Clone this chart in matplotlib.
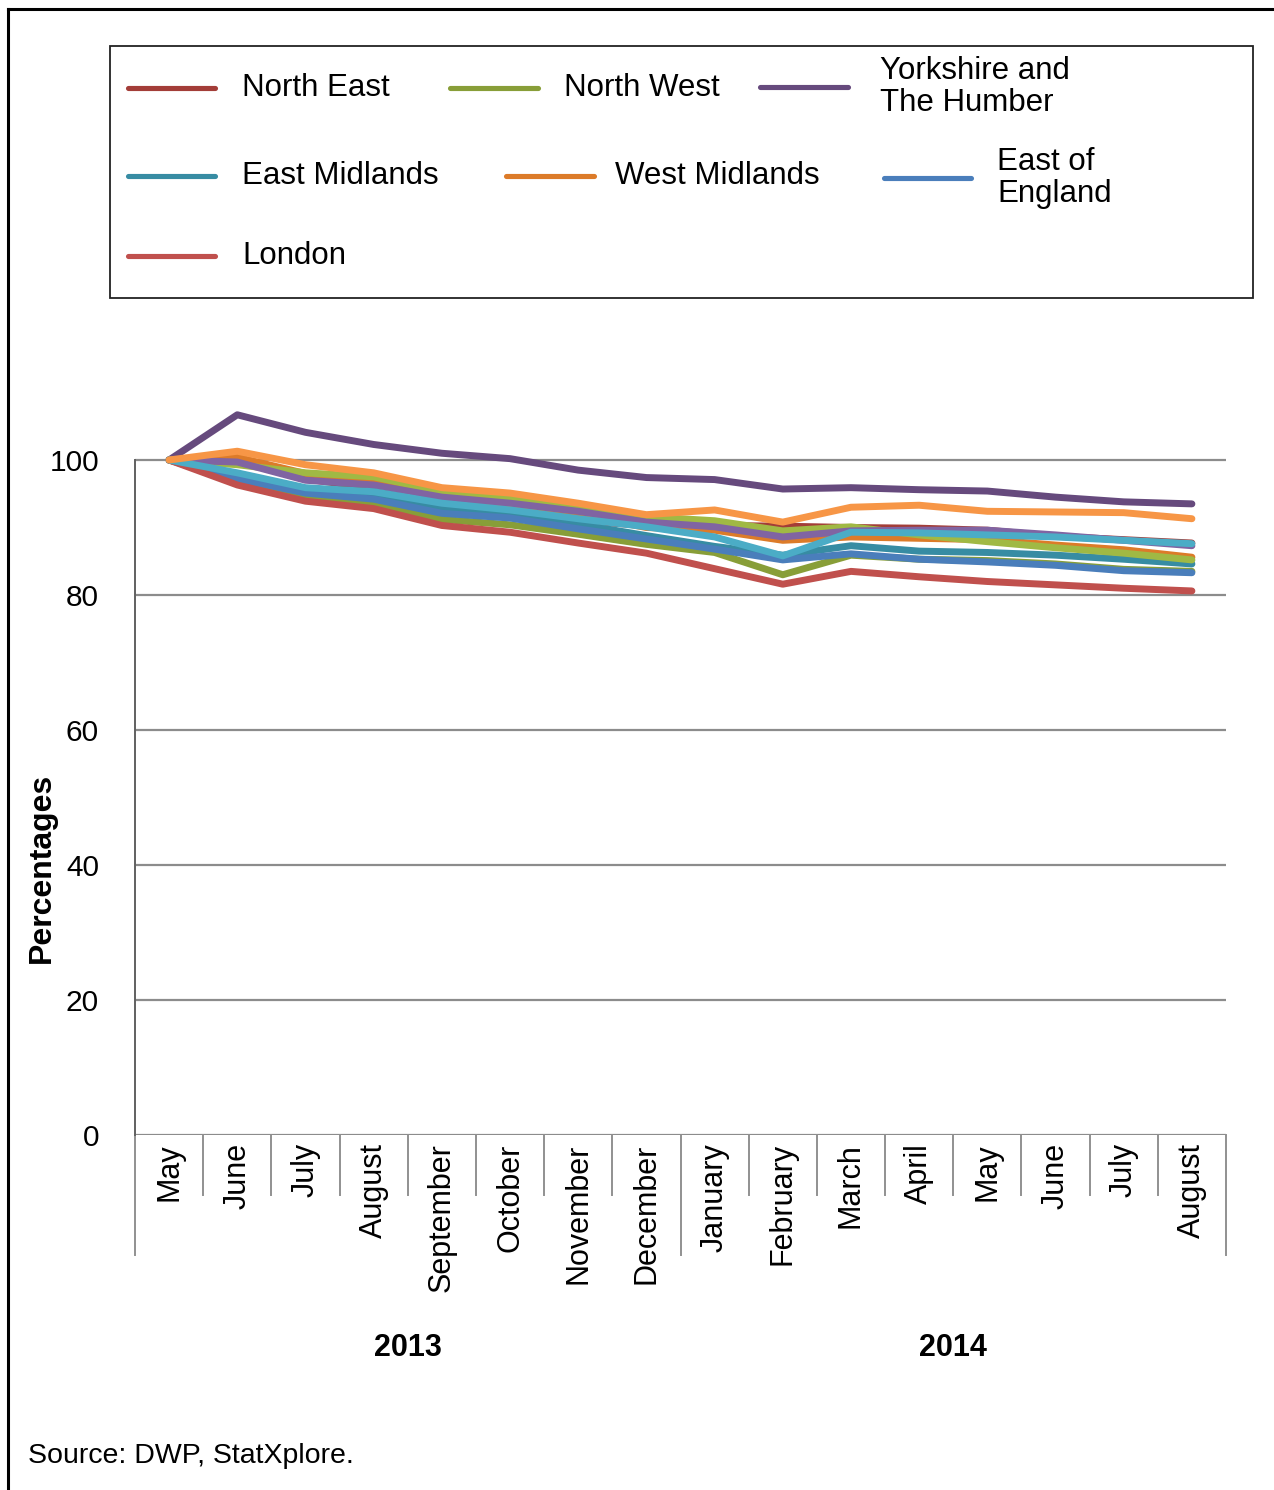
import matplotlib
matplotlib.use("Agg")
import matplotlib.pyplot as plt
from matplotlib.lines import Line2D
from matplotlib.patches import Rectangle

plt.rcParams['font.family'] = ['Liberation Sans', 'DejaVu Sans']

months = ['May', 'June', 'July', 'August', 'September', 'October', 'November',
          'December', 'January', 'February', 'March', 'April', 'May', 'June',
          'July', 'August']
years = ['2013', '2014']

# index, May 2013 = 100
north_east = [100, 100.0, 97.2, 95.8, 92.8, 92.1, 91.0, 90.3, 90.3, 90.2, 90.0, 89.9, 89.6, 88.7, 88.2, 87.7]
north_west = [100, 96.8, 94.3, 93.5, 91.2, 90.4, 89.0, 87.5, 86.3, 83.0, 85.9, 85.3, 85.1, 84.6, 83.8, 83.5]
yorkshire = [100, 106.7, 104.1, 102.3, 101.0, 100.2, 98.5, 97.4, 97.1, 95.7, 95.9, 95.6, 95.4, 94.5, 93.8, 93.5]
east_midlands = [100, 97.6, 95.6, 94.8, 93.0, 92.2, 90.5, 88.8, 87.2, 85.9, 87.3, 86.5, 86.3, 85.9, 85.3, 84.6]
west_midlands = [100, 100.4, 98.0, 96.9, 94.7, 93.3, 91.9, 90.0, 89.6, 88.1, 88.6, 88.4, 88.2, 87.4, 86.7, 85.6]
east_england = [100, 97.2, 95.1, 94.2, 92.1, 91.4, 89.8, 88.3, 86.8, 85.2, 86.1, 85.3, 84.9, 84.4, 83.6, 83.3]
london = [100, 96.3, 93.9, 92.8, 90.3, 89.3, 87.7, 86.2, 83.9, 81.6, 83.5, 82.7, 82.0, 81.5, 81.0, 80.6]
south_east = [100, 99.3, 98.1, 97.5, 95.3, 94.4, 93.0, 91.6, 91.0, 89.5, 90.1, 88.9, 87.9, 87.0, 86.2, 85.2]
south_west = [100, 99.7, 97.0, 96.3, 94.5, 93.6, 92.4, 90.8, 90.1, 88.6, 89.5, 89.6, 89.6, 88.9, 88.1, 87.3]
wales = [100, 98.1, 95.9, 95.3, 93.6, 92.6, 91.3, 90.1, 88.6, 85.8, 89.3, 89.2, 88.9, 88.6, 88.1, 87.6]
scotland = [100, 101.3, 99.3, 98.1, 95.9, 95.1, 93.6, 91.9, 92.6, 90.8, 93.0, 93.3, 92.4, 92.3, 92.2, 91.3]

series = [
    ('North East', north_east, '#A33D38'),
    ('North West', north_west, '#889E38'),
    ('Yorkshire and\nThe Humber', yorkshire, '#664A7D'),
    ('East Midlands', east_midlands, '#378CA3'),
    ('West Midlands', west_midlands, '#DC7B29'),
    ('East of\nEngland', east_england, '#4A7EBB'),
    ('London', london, '#C0504D'),
    ('South East', south_east, '#A0B944'),
    ('South West', south_west, '#8064A2'),
    ('Wales', wales, '#4BACC6'),
    ('Scotland', scotland, '#F79646'),
]

W, H = 1274, 1490
fig = plt.figure(figsize=(W / 100, H / 100), dpi=100)

def fx(px):
    return px / W

def fy(py):
    return 1 - py / H

ax = fig.add_axes([fx(135), fy(1135), fx(1226) - fx(135), fy(392.5) - fy(1135)])
x = list(range(len(months)))
for name, vals, col in series:
    ax.plot(x, vals, color=col, lw=5, solid_capstyle='round', solid_joinstyle='round')

ax.set_xlim(-0.5, len(months) - 0.5)
ax.set_ylim(0, 110)
ax.set_yticks([0, 20, 40, 60, 80, 100])
ax.yaxis.grid(True, color='#8C8C8C', lw=1.6)
ax.set_axisbelow(True)
for s in ['top', 'right', 'bottom']:
    ax.spines[s].set_visible(False)
ax.spines['left'].set_bounds(0, 100)
ax.spines['left'].set_color('#606060')
ax.spines['left'].set_linewidth(1.4)
ax.tick_params(axis='y', length=0, pad=26, labelsize=21.5)
ax.set_xticks(x)
ax.set_xticklabels(months, rotation=90, fontsize=22)
ax.tick_params(axis='x', length=0, pad=6)

# category separators below the axis
tr = ax.get_xaxis_transform()
axh = 1135 - 392.5
for i in range(len(months) + 1):
    xb = i - 0.5
    long_line = i in (0, 8, len(months))
    yb = -(120 if long_line else 60) / axh
    ax.add_line(Line2D([xb, xb], [0, yb], transform=tr, color='#909090', lw=1.4, clip_on=False))

ax.text(3.5, -(1348 - 1135) / axh, years[0], transform=tr, ha='center', va='center',
        fontsize=22, fontweight='bold')
ax.text(11.5, -(1348 - 1135) / axh, years[1], transform=tr, ha='center', va='center',
        fontsize=22, fontweight='bold')

fig.text(fx(42), fy(868), 'Percentages', rotation=90, ha='center', va='center',
         fontsize=23, fontweight='bold')

# legend box (only the first seven regions are shown)
fig.patches.append(Rectangle((fx(110), fy(298)), fx(1253) - fx(110), fy(46) - fy(298),
                             transform=fig.transFigure, fill=False, edgecolor='#222222', lw=1.3))
leg_pos = [(128, 215, 242, 88), (450, 538, 564, 88), (760, 848, 880, 87),
           (128, 215, 242, 176), (506, 594, 615, 176), (884, 971, 997, 178),
           (128, 215, 242, 256)]
for (name, vals, col), (x0, x1, tx, ty) in zip(series[:7], leg_pos):
    fig.add_artist(Line2D([fx(x0), fx(x1)], [fy(ty), fy(ty)], transform=fig.transFigure,
                          color=col, lw=3.7, solid_capstyle='round'))
    fig.text(fx(tx), fy(ty), name, ha='left', va='center', fontsize=22.5, linespacing=1.12)

# outer frame (top and left edges)
fig.add_artist(Line2D([fx(8), 1], [fy(9), fy(9)], transform=fig.transFigure, color='black', lw=2.2))
fig.add_artist(Line2D([fx(8), fx(8)], [fy(9), 0], transform=fig.transFigure, color='black', lw=2.2))

fig.text(fx(28), fy(1456), 'Source: DWP, StatXplore.', ha='left', va='center', fontsize=20.5,
         family=['Liberation Sans Narrow', 'Liberation Sans', 'DejaVu Sans'])

fig.savefig('out.png', dpi=100)
